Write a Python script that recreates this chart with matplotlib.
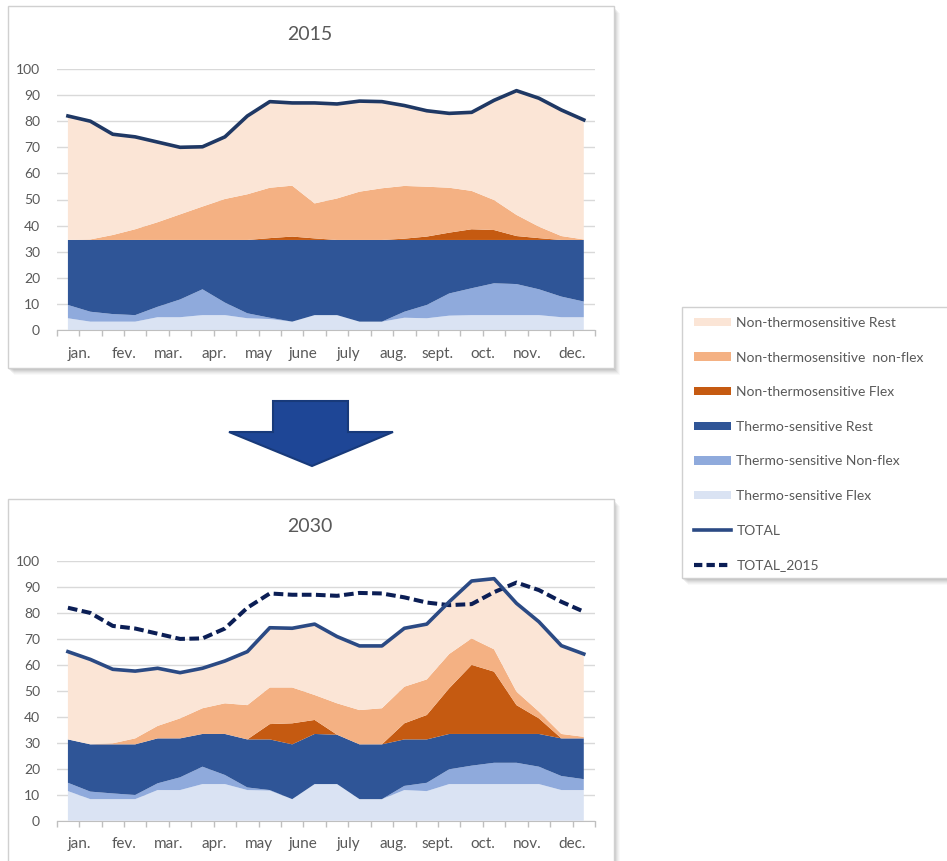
# Load profile 2015 vs 2030: stacked areas by consumption type, with totals.
import matplotlib.pyplot as plt
from matplotlib.patches import Rectangle, Polygon, Patch
from matplotlib.lines import Line2D

plt.rcParams['font.family'] = ['Lato', 'DejaVu Sans']

W, H = 947, 861

months = ['jan.', 'fev.', 'mar.', 'apr.', 'may', 'june',
          'july', 'aug.', 'sept.', 'oct.', 'nov.', 'dec.']

# two points per month (24 points)
labels = ['Thermo-sensitive Flex', 'Thermo-sensitive Non-flex', 'Thermo-sensitive Rest',
          'Non-thermosensitive Flex', 'Non-thermosensitive  non-flex', 'Non-thermosensitive Rest']
colors = ['#DAE3F3', '#8FAADC', '#2F5597', '#C55A11', '#F4B183', '#FBE5D6']

# 2015
ts_flex_2015 = [4.5, 3.2, 3.2, 3.2, 4.9, 4.9, 5.7, 5.7, 4.5, 4.2, 3.2, 5.7,
                5.7, 3.2, 3.2, 4.7, 4.5, 5.5, 5.7, 5.7, 5.7, 5.7, 4.9, 4.9]
ts_nonflex_2015 = [5.1, 3.8, 2.9, 2.5, 4.0, 6.8, 9.9, 4.8, 1.9, 0.5, 0.0, 0.0,
                   0.0, 0.0, 0.0, 2.3, 5.1, 8.5, 10.3, 12.2, 11.9, 9.9, 7.9, 6.0]
ts_rest_2015 = [24.9, 27.5, 28.4, 28.8, 25.6, 22.8, 18.9, 24.0, 28.1, 29.8, 31.3, 28.8,
                28.8, 31.3, 31.3, 27.5, 24.9, 20.5, 18.5, 16.6, 16.9, 18.9, 21.7, 23.6]
nts_flex_2015 = [0, 0, 0, 0, 0, 0, 0, 0, 0, 0.7, 1.3, 0.6,
                 0, 0, 0, 0.5, 1.3, 2.8, 4.1, 3.8, 1.5, 0.7, 0, 0]
nts_nonflex_2015 = [0.0, 0.2, 1.9, 4.1, 6.8, 9.8, 12.8, 15.7, 17.5, 19.3, 19.5, 13.4,
                    15.9, 18.5, 19.8, 20.2, 19.1, 17.2, 14.7, 11.5, 8.1, 4.4, 1.5, 0.2]
nts_rest_2015 = [47.5, 45.3, 38.6, 35.4, 30.7, 25.7, 22.9, 23.8, 30.0, 33.0, 31.7, 38.5,
                 36.2, 34.7, 33.2, 30.8, 29.1, 28.5, 30.1, 38.2, 47.6, 49.2, 48.3, 45.8]
total_2015 = [82.0, 80.0, 75.0, 74.0, 72.0, 70.0, 70.2, 74.0, 82.0, 87.5, 87.0, 87.0,
              86.6, 87.7, 87.5, 86.0, 84.0, 83.0, 83.4, 88.0, 91.7, 88.8, 84.3, 80.5]

# 2030
ts_flex_2030 = [11.4, 8.3, 8.3, 8.3, 11.8, 11.8, 14.1, 14.1, 11.8, 11.6, 8.3, 14.1,
                14.1, 8.3, 8.3, 11.8, 11.4, 14.1, 14.1, 14.1, 14.1, 14.1, 11.8, 11.8]
ts_nonflex_2030 = [3.2, 2.9, 2.2, 1.6, 2.6, 4.9, 6.7, 3.5, 1.0, 0.2, 0.0, 0.0,
                   0.0, 0.0, 0.0, 1.6, 3.2, 5.7, 7.1, 8.2, 8.2, 6.7, 5.4, 4.2]
ts_rest_2030 = [16.7, 18.2, 18.9, 19.5, 17.3, 15.0, 12.6, 15.8, 18.5, 19.5, 21.1, 19.3,
                19.0, 21.1, 21.1, 17.9, 16.7, 13.6, 12.2, 11.1, 11.1, 12.6, 14.5, 15.7]
nts_flex_2030 = [0, 0, 0, 0, 0, 0, 0, 0, 0, 5.9, 8.1, 5.4,
                 0, 0, 0, 6.2, 9.4, 17.6, 26.6, 24.0, 11.1, 6.0, 0, 0]
nts_nonflex_2030 = [0.0, 0.0, 0.4, 2.3, 4.8, 7.7, 9.9, 11.8, 13.2, 14.1, 13.8, 9.6,
                    12.1, 13.2, 13.9, 14.1, 13.7, 13.2, 10.2, 8.6, 5.2, 2.6, 1.7, 0.6]
nts_rest_2030 = [33.8, 32.7, 28.5, 25.9, 22.2, 17.6, 15.4, 16.3, 20.6, 23.0, 22.8, 27.3,
                 25.7, 24.7, 24.0, 22.5, 21.3, 20.1, 22.1, 27.2, 34.0, 34.6, 34.0, 31.9]
total_2030 = [65.1, 62.1, 58.3, 57.6, 58.7, 57.0, 58.7, 61.5, 65.1, 74.3, 74.1, 75.7,
              70.9, 67.3, 67.3, 74.1, 75.7, 84.3, 92.3, 93.2, 83.7, 76.6, 67.4, 64.2]

y_ticks = [0, 10, 20, 30, 40, 50, 60, 70, 80, 90, 100]

line_solid = '#1F3864'
line_solid_2030 = '#2B4A84'
line_dash = '#0B1E55'
text_grey = '#595959'


def fx(px):
    return px / W


def fy(py):
    return 1 - py / H


fig = plt.figure(figsize=(W / 100, H / 100), dpi=100)


def box(x0, y0, x1, y1):
    # soft shadow, then white card with thin grey border (pixel coords)
    for k, a in zip(range(7, 0, -1), [0.04, 0.06, 0.08, 0.1, 0.12, 0.14, 0.16]):
        fig.add_artist(Rectangle((fx(x0 + k - 1), fy(y1 + k)), fx(x1 - x0), (y1 - y0) / H,
                                 transform=fig.transFigure, facecolor='#7F7F7F',
                                 edgecolor='none', alpha=a, zorder=-3))
    fig.add_artist(Rectangle((fx(x0), fy(y1)), fx(x1 - x0), (y1 - y0) / H,
                             transform=fig.transFigure, facecolor='white',
                             edgecolor='#D0D0D0', linewidth=1, zorder=-2))


box(8, 6, 614, 368)
box(8, 499, 614, 880)
box(682, 307, 970, 578)


def panel(rect, title, title_y, stacks, total, total_ref=None):
    ax = fig.add_axes(rect)
    ax.set_facecolor('none')
    x = list(range(len(total)))
    ax.stackplot(x, *stacks, colors=colors, linewidth=0)
    if total_ref is not None:
        ax.plot(x, total_ref, color=line_dash, linewidth=2.9, dashes=(2.4, 1.1))
        ax.plot(x, total, color=line_solid_2030, linewidth=2.6)
    else:
        ax.plot(x, total, color=line_solid, linewidth=2.6)
    ax.set_xlim(-0.5, 23.5)
    ax.set_ylim(0, 100)
    ax.set_yticks(y_ticks)
    ax.tick_params(axis='y', length=0, pad=12, labelsize=10, labelcolor=text_grey)
    # tick marks between the half-month categories, month names under each pair
    ax.xaxis.remove_overlapping_locs = False
    ax.set_xticks([i - 0.5 for i in range(25)], minor=True)
    ax.set_xticks([2 * i + 0.5 for i in range(12)])
    ax.set_xticklabels(months)
    ax.tick_params(axis='x', which='minor', length=4.5, color='#BFBFBF', width=1)
    ax.tick_params(axis='x', which='major', length=0, pad=12, labelsize=11,
                   labelcolor=text_grey)
    ax.grid(axis='y', color='#D9D9D9', linewidth=1)
    ax.set_axisbelow(True)
    for s in ['top', 'right', 'left']:
        ax.spines[s].set_visible(False)
    ax.spines['bottom'].set_color('#BFBFBF')
    fig.text(fx(310), fy(title_y), title, fontsize=14, color=text_grey,
             ha='center', va='center')
    return ax


panel([fx(56.7), fy(330), fx(595) - fx(56.7), 261 / H], '2015', 34,
      [ts_flex_2015, ts_nonflex_2015, ts_rest_2015,
       nts_flex_2015, nts_nonflex_2015, nts_rest_2015], total_2015)

panel([fx(56.7), fy(820.7), fx(595) - fx(56.7), 259.7 / H], '2030', 527,
      [ts_flex_2030, ts_nonflex_2030, ts_rest_2030,
       nts_flex_2030, nts_nonflex_2030, nts_rest_2030], total_2030, total_2015)

# block arrow between the two charts
arrow_pts = [(273, 401), (348, 401), (348, 432), (393, 432), (312, 466), (229, 432), (273, 432)]
fig.add_artist(Polygon([(fx(a), fy(b)) for a, b in arrow_pts], closed=True,
                       transform=fig.transFigure, facecolor='#1E4696',
                       edgecolor='#183A7A', linewidth=1.5))

# legend (top to bottom as in the reference)
handles = [Patch(facecolor=colors[i]) for i in [5, 4, 3, 2, 1, 0]]
handles += [Line2D([], [], color=line_solid_2030, linewidth=2.6),
            Line2D([], [], color=line_dash, linewidth=3, dashes=(2.0, 1.0))]
leg_labels = [labels[i] for i in [5, 4, 3, 2, 1, 0]] + ['TOTAL', 'TOTAL_2015']
fig.legend(handles, leg_labels, loc='upper left', bbox_to_anchor=(fx(680), fy(303)),
           frameon=False, fontsize=10, labelcolor=text_grey, handlelength=2.7,
           handleheight=0.55, handletextpad=0.35, labelspacing=1.63, borderpad=0.5)

plt.savefig('out.png', dpi=100)
